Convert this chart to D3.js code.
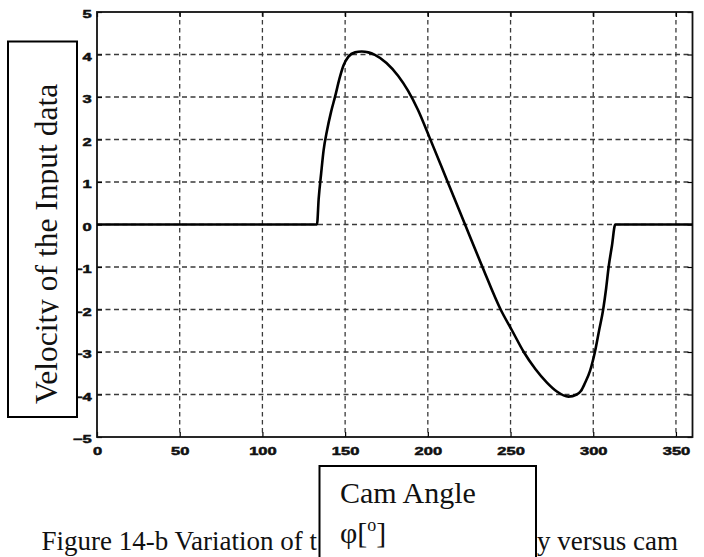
<!DOCTYPE html>
<html>
<head>
<meta charset="utf-8">
<script src="https://cdn.jsdelivr.net/npm/d3@7"></script>
<style>
  body { margin: 0; background: #fff; }
  svg { display: block; }
</style>
</head>
<body>
<div id="chart"></div>
<script>
// Cam angle (degrees) and velocity
var angles = [0, 133, 134, 135.5, 137, 139, 141.5, 144, 146.5, 149, 152, 156, 160, 164, 168, 175, 182, 188, 194, 201, 212, 222.5, 233, 244, 251, 258, 265, 272, 278, 285, 290, 292.5, 295, 298, 301, 303.5, 306, 307.8, 309.3, 311.3, 313.3, 360];
var velocity = [0, 0, 0.6, 1.2, 1.75, 2.2, 2.65, 3.02, 3.42, 3.74, 3.95, 4.05, 4.07, 4.05, 3.99, 3.8, 3.5, 3.15, 2.7, 2.05, 1, 0, -1, -2, -2.5, -3, -3.4, -3.72, -3.93, -4.05, -4, -3.92, -3.73, -3.45, -3, -2.5, -2, -1.5, -1, -0.5, 0, 0];

var xTicks = [0, 50, 100, 150, 200, 250, 300, 350];
var yTicks = [-5, -4, -3, -2, -1, 0, 1, 2, 3, 4, 5];

var yTitle = "Velocity of the Input data";
var xTitle = ["Cam Angle", "φ["];
var captionLeft = "Figure 14-b Variation of t";
var captionRight = "y versus cam";

var width = 704, height = 557;
var plot = { left: 97, top: 12, right: 692.5, bottom: 437 };

var svg = d3.select("#chart").append("svg")
    .attr("width", width)
    .attr("height", height);

var x = d3.scaleLinear().domain([0, 360]).range([plot.left, plot.right]);
var y = d3.scaleLinear().domain([-5, 5]).range([plot.bottom, plot.top]);

// Dashed grid
var grid = svg.append("g").attr("class", "grid");
grid.selectAll(".vgrid")
    .data(xTicks.filter(function (d) { return d > 0; }))
    .enter().append("line")
    .attr("x1", function (d) { return x(d); })
    .attr("x2", function (d) { return x(d); })
    .attr("y1", plot.top)
    .attr("y2", plot.bottom)
    .attr("stroke", "#3a3a3a")
    .attr("stroke-width", 1.3)
    .attr("stroke-dasharray", "4.5,3.5");
grid.selectAll(".hgrid")
    .data(yTicks.filter(function (d) { return d > -5 && d < 5; }))
    .enter().append("line")
    .attr("x1", plot.left)
    .attr("x2", plot.right)
    .attr("y1", function (d) { return y(d); })
    .attr("y2", function (d) { return y(d); })
    .attr("stroke", "#3a3a3a")
    .attr("stroke-width", 1.3)
    .attr("stroke-dasharray", "5,3.5");

// Axes with inward ticks
var xAxis = svg.append("g")
    .attr("transform", "translate(0," + plot.bottom + ")")
    .call(d3.axisBottom(x).tickValues(xTicks).tickSize(-5).tickPadding(10));
var yAxis = svg.append("g")
    .attr("transform", "translate(" + plot.left + ",0)")
    .call(d3.axisLeft(y).tickValues(yTicks).tickSize(-5).tickPadding(3.5));

[xAxis, yAxis].forEach(function (ax) {
    ax.select(".domain").remove();
    ax.selectAll(".tick line").attr("stroke", "#000").attr("stroke-width", 1.2);
    ax.selectAll(".tick text")
        .attr("fill", "#111")
        .attr("stroke", "#111")
        .attr("stroke-width", 0.5)
        .style("font-family", "'Liberation Sans', Arial, sans-serif")
        .style("font-size", "11px")
        .style("font-weight", "bold")
        .attr("transform", "scale(1.5,1)");
});
xAxis.selectAll(".tick text").attr("y", 10);
yAxis.selectAll(".tick text").attr("dy", "0.5em");

// Top/right ticks
svg.append("g")
    .attr("transform", "translate(0," + plot.top + ")")
    .call(d3.axisTop(x).tickValues(xTicks).tickSize(-5).tickFormat(""))
    .call(function (g) { g.select(".domain").remove(); g.selectAll("line").attr("stroke-width", 1.2); });
svg.append("g")
    .attr("transform", "translate(" + plot.right + ",0)")
    .call(d3.axisRight(y).tickValues(yTicks).tickSize(-5).tickFormat(""))
    .call(function (g) { g.select(".domain").remove(); g.selectAll("line").attr("stroke-width", 1.2); });

// Frame
svg.append("rect")
    .attr("x", plot.left)
    .attr("y", plot.top)
    .attr("width", plot.right - plot.left)
    .attr("height", plot.bottom - plot.top)
    .attr("fill", "none")
    .attr("stroke", "#111")
    .attr("stroke-width", 1.8);

// Velocity curve
var points = angles.map(function (a, i) { return [a, velocity[i]]; });
var line = d3.line()
    .x(function (d) { return x(d[0]); })
    .y(function (d) { return y(d[1]); })
    .curve(d3.curveMonotoneX);
svg.append("path")
    .datum(points)
    .attr("d", line)
    .attr("fill", "none")
    .attr("stroke", "#000")
    .attr("stroke-width", 2.6)
    .attr("stroke-linejoin", "round");

var serif = "'Liberation Serif', 'Times New Roman', serif";

// Caption (middle part is covered by the x-title box)
svg.append("text")
    .attr("x", 41.5)
    .attr("y", 550)
    .style("font-family", serif)
    .style("font-size", "27px")
    .attr("fill", "#111")
    .text(captionLeft);
svg.append("text")
    .attr("x", 678)
    .attr("y", 550)
    .attr("text-anchor", "end")
    .style("font-family", serif)
    .style("font-size", "27px")
    .attr("fill", "#111")
    .text(captionRight);

// Y title box
svg.append("rect")
    .attr("x", 8).attr("y", 41.5)
    .attr("width", 69).attr("height", 375.5)
    .attr("fill", "#fff")
    .attr("stroke", "#000")
    .attr("stroke-width", 2);
svg.append("clipPath").attr("id", "yclip")
    .append("rect")
    .attr("x", 9).attr("y", 43).attr("width", 49.5).attr("height", 372);
svg.append("g")
    .attr("clip-path", "url(#yclip)")
    .append("text")
    .attr("transform", "translate(57,404) rotate(-90)")
    .style("font-family", serif)
    .style("font-size", "31.5px")
    .attr("fill", "#111")
    .text(yTitle);

// X title box
svg.append("rect")
    .attr("x", 319.5).attr("y", 466)
    .attr("width", 216.5).attr("height", 100)
    .attr("fill", "#fff")
    .attr("stroke", "#000")
    .attr("stroke-width", 2);
svg.append("text")
    .attr("x", 340).attr("y", 503)
    .style("font-family", serif)
    .style("font-size", "30px")
    .attr("fill", "#111")
    .text(xTitle[0]);
var phi = svg.append("text")
    .attr("x", 340).attr("y", 543)
    .style("font-family", serif)
    .style("font-size", "30px")
    .attr("fill", "#111");
phi.append("tspan").text(xTitle[1]);
phi.append("tspan").attr("dy", -12).style("font-size", "18px").text("o");
phi.append("tspan").attr("dy", 12).text("]");
</script>
</body>
</html>
